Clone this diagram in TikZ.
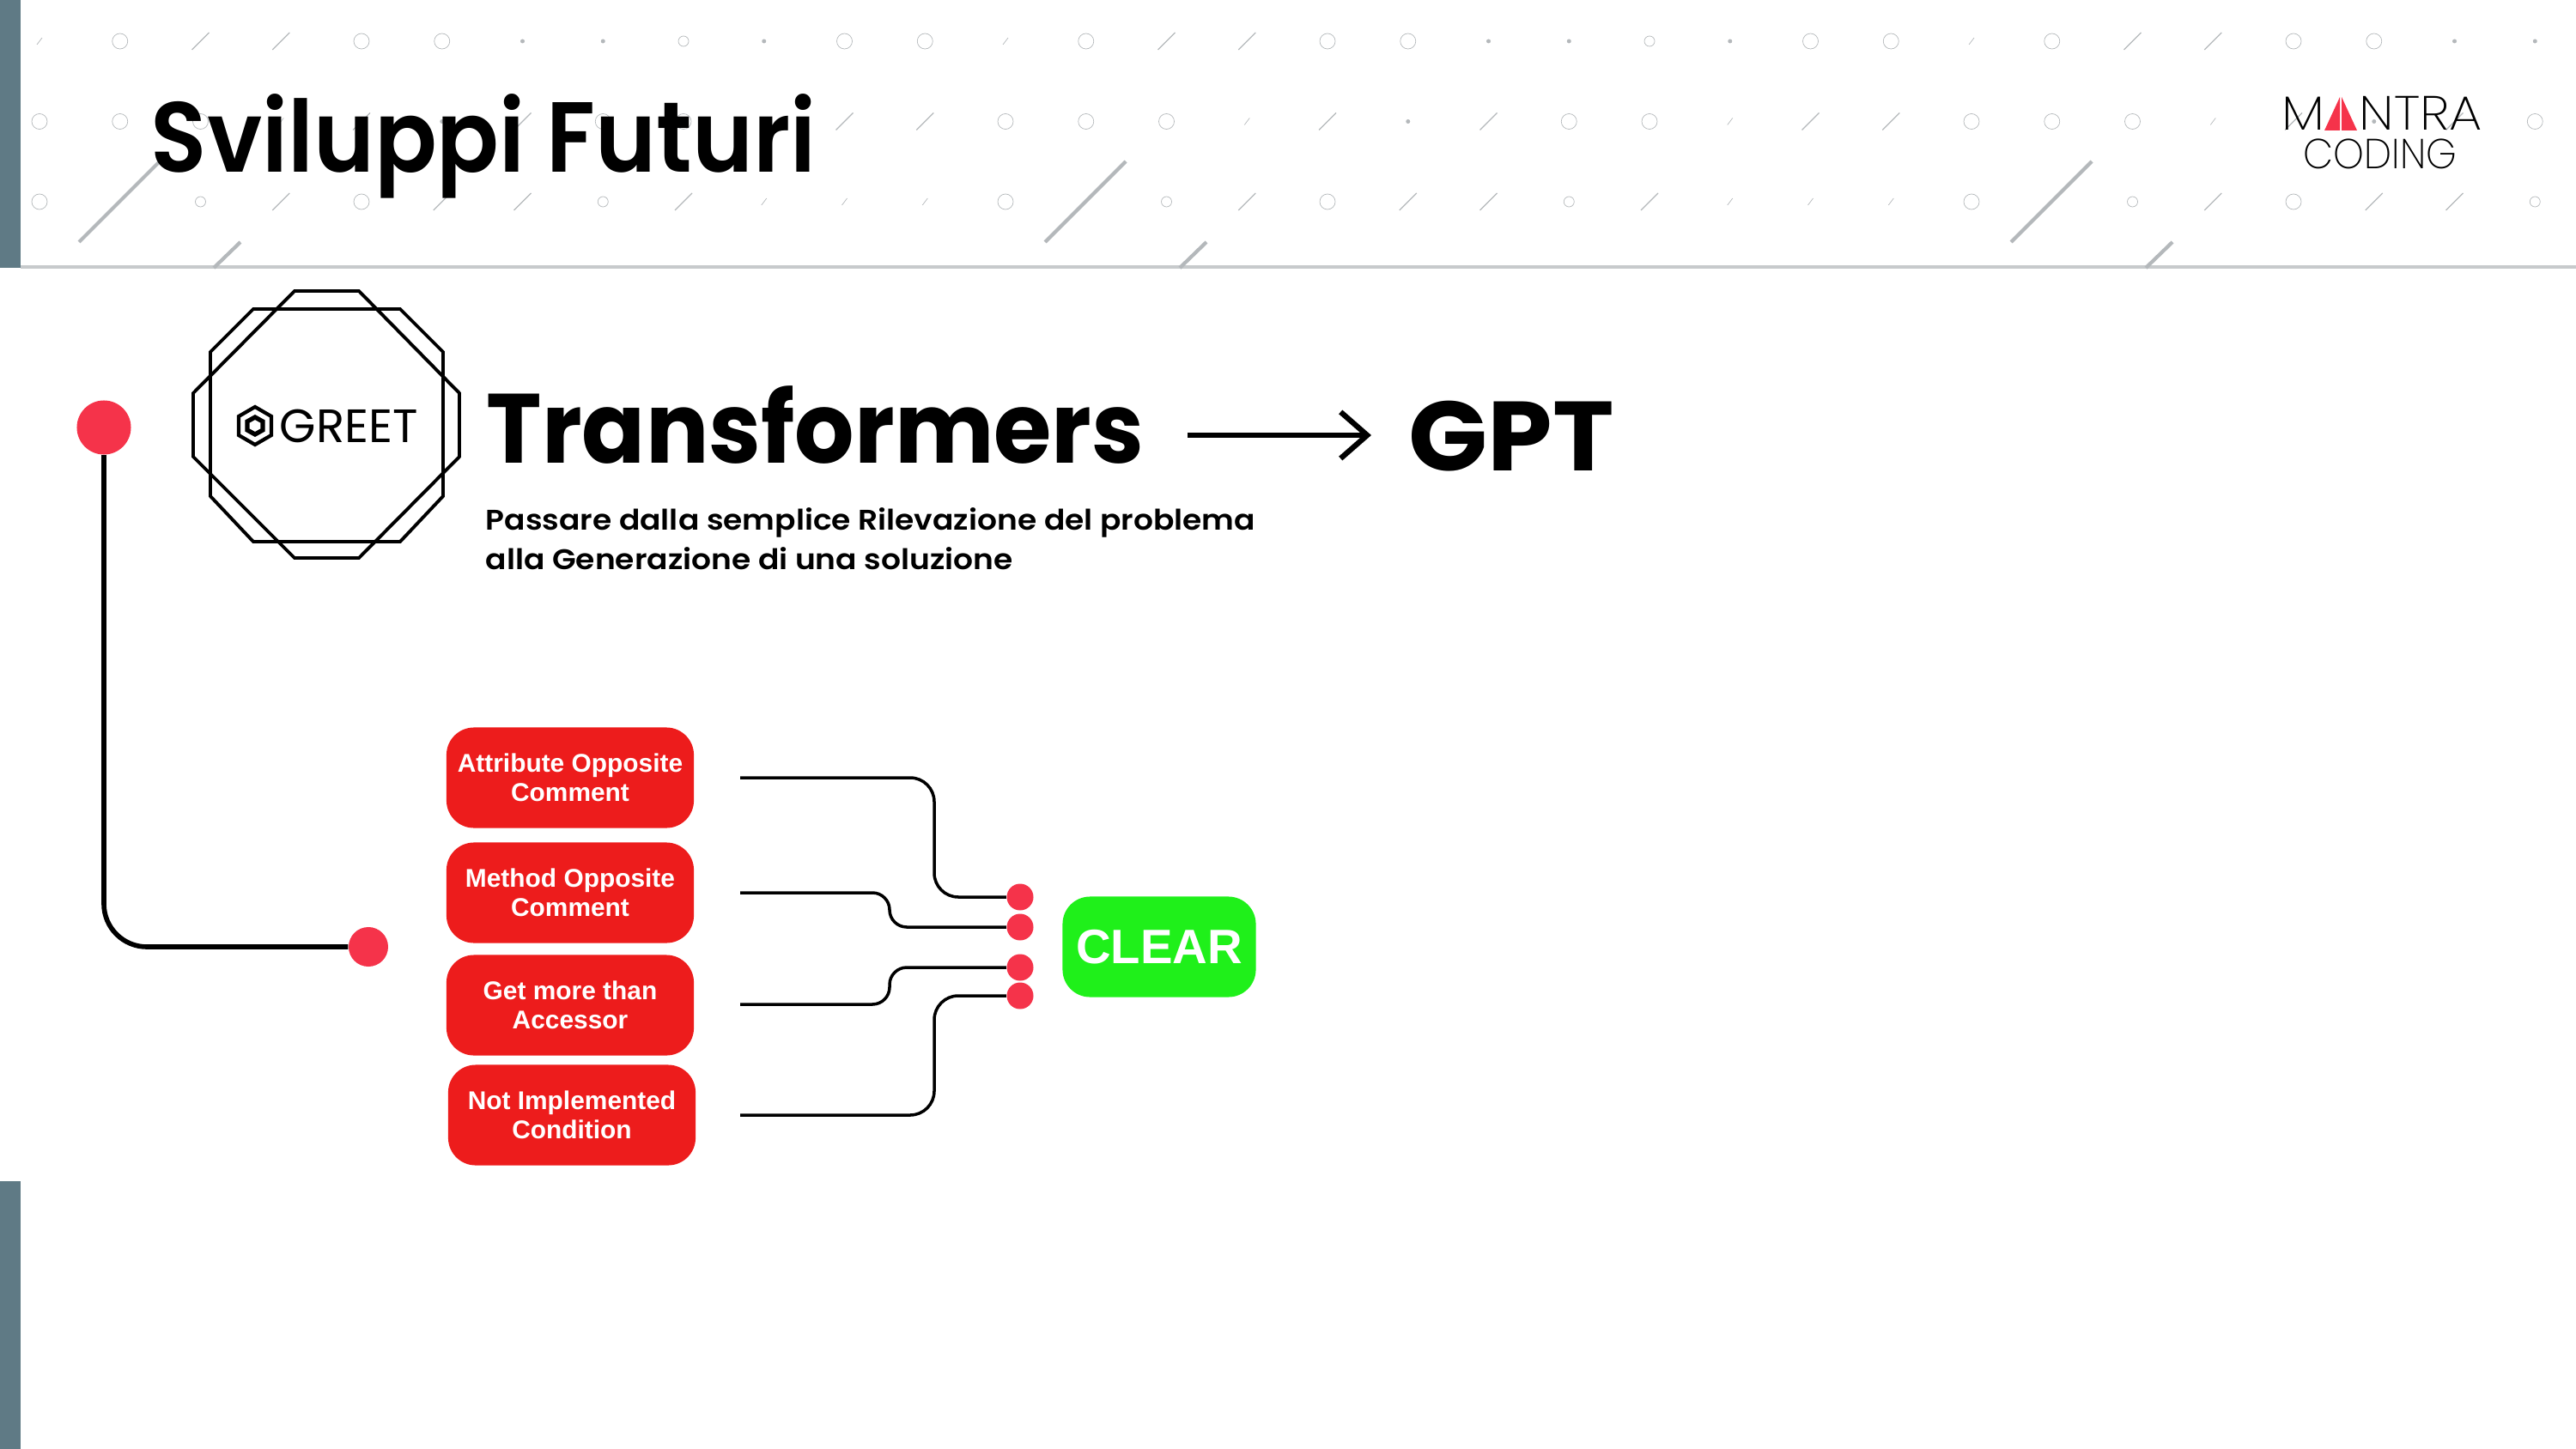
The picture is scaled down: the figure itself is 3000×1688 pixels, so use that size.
\documentclass[tikz,border=0pt]{standalone}
\usepackage{fontspec}
\usepackage{tikz}
\usetikzlibrary{arrows.meta}
\setmainfont{Liberation Sans}
\newfontfamily\titlefont{Poppins}[UprightFont=* SemiBold,FakeStretch=0.925]
\newfontfamily\headfont{Poppins}[UprightFont=* Bold,FakeStretch=0.952]
\newfontfamily\gptfont{Poppins}[UprightFont=* Bold,FakeStretch=1.055]
\newfontfamily\subfont{Poppins}[UprightFont=* SemiBold,FakeStretch=1.09]
\newfontfamily\greetfont{Poppins}[FakeStretch=1.0]
\newfontfamily\thinfont{Poppins}[UprightFont=* ExtraLight,FakeStretch=1.09]
\newfontfamily\codfont{Poppins}[UprightFont=* ExtraLight,FakeStretch=0.93]
\definecolor{barteal}{HTML}{5F7A85}
\definecolor{dotred}{HTML}{F5334A}
\definecolor{boxred}{HTML}{ED1C1C}
\definecolor{boxgreen}{HTML}{1FF01A}
\definecolor{patgray}{HTML}{B4B8BB}
\tikzset{
  txt/.style={anchor=base west,inner sep=0pt},
  patline/.style={draw=patgray,line width=0.2pt},
  reddot/.style={circle,fill=dotred,inner sep=0pt,minimum size=#1},
  badbox/.style={rectangle,rounded corners=0.32cm,fill=boxred,text=white,align=center,
    minimum width=2.88cm,minimum height=1.17cm,inner sep=0pt,
    font=\bfseries\fontsize{8.5pt}{9.5pt}\selectfont},
  link/.style={line width=1pt,rounded corners=0.28cm},
}
\begin{document}
\begin{tikzpicture}[x=0.01cm,y=-0.01cm]
\useasboundingbox (0,0) rectangle (3000,1688);
% side bars and header rule
\fill[barteal] (0,0) rectangle (24,312);
\fill[barteal] (0,1376) rectangle (24,1688);
\fill[patgray!75] (24,309) rectangle (3000,313);
% header pattern
\foreach \p in {0,12,24} {
  \foreach \c/\r in {1/0,4/0,5/0,10/0,11/0,0/1,1/1,2/1,7/1,8/1,0/2,4/2}
    \draw[patline] ({46+(\p+\c)*93.75},{48+\r*93.5}) circle (9);
  \foreach \c/\r in {8/0,2/2,7/2}
    \draw[patline] ({46+(\p+\c)*93.75},{48+\r*93.5}) circle (6);
  \foreach \c/\r in {6/0,7/0,9/0,5/1}
    \fill[patgray] ({46+(\p+\c)*93.75},{48+\r*93.5}) circle (2.5);
  \foreach \c/\r in {2/0,3/0,4/1,6/1,10/1,11/1,3/2,5/2,6/2,8/2}
    \draw[patline,line width=0.35pt] ({46+(\p+\c)*93.75-10},{48+\r*93.5+10}) -- ++(20,-20);
  \foreach \c/\r in {0/0,3/1,9/1,9/2,10/2,11/2}
    \draw[patline] ({46+(\p+\c)*93.75-3},{48+\r*93.5+4}) -- ++(6,-8);
  \draw[patgray,line width=1.2pt] ({92+\p*93.75},282) -- ++(94,-94);
  \draw[patgray,line width=1.2pt] ({249+\p*93.75},312) -- ++(31,-30);
}
% title and logo
\node[txt,font=\titlefont\fontsize{33pt}{33pt}\selectfont] (title) at (175,201) {Sviluppi Futuri};
\node[txt,font=\thinfont\fontsize{15.9pt}{16pt}\selectfont] (logom) at (2657,152) {M};
\fill[dotred] (2707,152) -- (2725,113) -- (2725,152) -- cycle;
\fill[dotred] (2745,152) -- (2727,113) -- (2727,152) -- cycle;
\node[txt,font=\thinfont\fontsize{15.9pt}{16pt}\selectfont] (logotra) at (2747,152) {NTRA};
\node[txt,font=\codfont\fontsize{13.9pt}{14pt}\selectfont] (logocod) at (2682,197) {CODING};
% octagons
\draw[line width=1.1pt] (343,339)--(418,339)--(535,458)--(535,532)--(418,650)--(343,650)--(225,532)--(225,458)--cycle;
\draw[line width=1.1pt] (295,360)--(466,360)--(516,410)--(516,578)--(466,631)--(295,631)--(245,578)--(245,410)--cycle;
\draw[line width=1.2pt] (297,474)--(316,485)--(316,507)--(297,518)--(278,507)--(278,485)--cycle;
\draw[line width=1.5pt] (297,486)--(306,491)--(306,501)--(297,506)--(288,501)--(288,491)--cycle;
\node[txt,font=\greetfont\fontsize{15.5pt}{16pt}\selectfont] (greet) at (325,515) {GREET};
% heading
\node[txt,font=\headfont\fontsize{32.6pt}{33pt}\selectfont] (trans) at (566,539) {Transformers};
\node[txt,font=\gptfont\fontsize{32.6pt}{33pt}\selectfont] (gpt) at (1640,548) {GPT};
\coordinate (arrstart) at (1383,507);
\coordinate (arrend) at (1597,507);
\draw[line width=1.8pt,-{Straight Barb[length=8.8pt,width=15.4pt]}] (arrstart) -- (arrend);
\node[txt,font=\subfont\fontsize{9.4pt}{10pt}\selectfont] (sub1) at (565,617) {Passare dalla semplice Rilevazione del problema};
\node[txt,font=\subfont\fontsize{9.4pt}{10pt}\selectfont] (sub2) at (565,663) {alla Generazione di una soluzione};
% left line
\node[reddot=0.63cm] (topdot) at (121,498) {};
\node[reddot=0.46cm] (enddot) at (429,1103) {};
\draw[line width=1.6pt,rounded corners=0.5cm] (topdot.south) -- (121,1103) -- (enddot.west);
% boxes
\node[badbox] (attr) at (664,906) {Attribute Opposite\\Comment};
\node[badbox] (meth) at (664,1040) {Method Opposite\\Comment};
\node[badbox] (getm) at (664,1171) {Get more than\\Accessor};
\node[badbox] (noti) at (666,1299) {Not Implemented\\Condition};
\node[rectangle,rounded corners=0.32cm,fill=boxgreen,text=white,minimum width=2.25cm,minimum height=1.17cm,inner sep=0pt,font=\bfseries\fontsize{16pt}{16pt}\selectfont] (clear) at (1350,1103) {CLEAR};
% dots and links
\node[reddot=0.31cm] (d1) at (1188,1045) {};
\node[reddot=0.31cm] (d2) at (1188,1080) {};
\node[reddot=0.31cm] (d3) at (1188,1127) {};
\node[reddot=0.31cm] (d4) at (1188,1160) {};
\coordinate (attrout) at (862,906);
\coordinate (methout) at (862,1040);
\coordinate (getmout) at (862,1170);
\coordinate (notiout) at (862,1299);
\draw[link] (attrout) -- (1088,906) -- (1088,1045) -- (d1.west);
\draw[link,rounded corners=0.2cm] (methout) -- (1036,1040) -- (1036,1080) -- (d2.west);
\draw[link,rounded corners=0.2cm] (getmout) -- (1036,1170) -- (1036,1127) -- (d3.west);
\draw[link] (notiout) -- (1088,1299) -- (1088,1160) -- (d4.west);
\end{tikzpicture}
\end{document}
